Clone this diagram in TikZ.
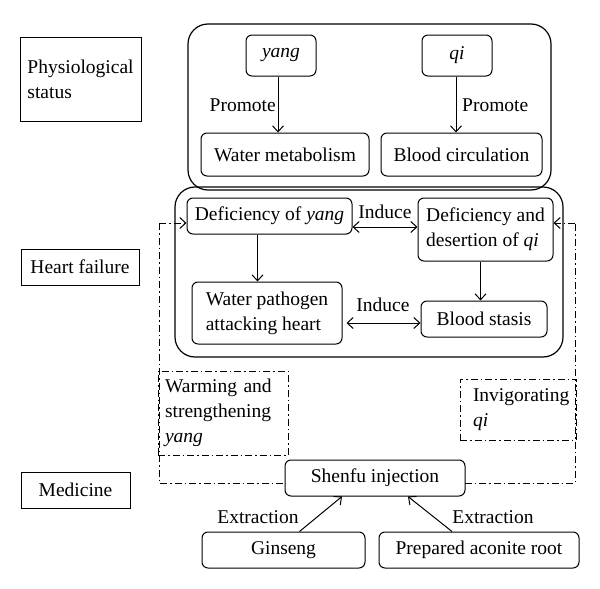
\documentclass[tikz,border=0pt]{standalone}
\usepackage{fontspec}
\setmainfont{Liberation Serif}
\usetikzlibrary{arrows.meta,calc}
\tikzset{
  txt/.style={font=\fontsize{19.5}{25}\selectfont},
  box/.style={draw, line width=1pt, inner sep=0pt, align=left, txt},
  rbox/.style={box, rounded corners=6pt},
  bigbox/.style={draw, line width=1.2pt, rounded corners=20pt, inner sep=0pt},
  dashdot/.style={line width=1pt, dash pattern=on 7pt off 3pt on 1.5pt off 3pt},
  dbox/.style={box, dashdot},
  lbl/.style={txt, inner sep=0pt},
  tip/.tip={Straight Barb[length=6pt,width=11pt]},
  arr/.style={-tip, line width=1pt},
  darr/.style={tip-tip, line width=1pt},
}
\begin{document}
\begin{tikzpicture}[x=1pt,y=-1pt]
\useasboundingbox (0,0) rectangle (600,589);
% left category boxes
\node[box, minimum width=121pt, minimum height=84pt] (phys) at (80.5,79) {Physiological\\status};
\node[box, minimum width=118pt, minimum height=36pt] (heart) at (80,267) {Heart failure};
\node[box, minimum width=109pt, minimum height=36pt] (med) at (75.5,490) {Medicine};
% top group
\node[bigbox, minimum width=363pt, minimum height=166pt] (topbig) at (369.5,107) {};
\node[rbox, minimum width=70pt, minimum height=41pt] (yang) at (281,55.5) {\textit{yang}};
\node[rbox, minimum width=70pt, minimum height=41pt] (qi) at (457,55.5) {\textit{qi}};
\node[rbox, minimum width=168pt, minimum height=43pt] (water) at (285,154.5) {Water metabolism};
\node[rbox, minimum width=161pt, minimum height=43pt] (bcirc) at (461.5,154.5) {Blood circulation};
\coordinate (a1) at ($(yang.south)+(-3,0)$);
\coordinate (a2) at ($(qi.south)+(-1,0)$);
\draw[arr] (a1) -- (a1 |- water.north);
\draw[arr] (a2) -- (a2 |- bcirc.north);
\node[lbl, anchor=east] (p1) at (276,105) {Promote};
\node[lbl, anchor=west] (p2) at (462,105) {Promote};
% middle group
\node[bigbox, minimum width=388pt, minimum height=170pt] (midbig) at (369,272) {};
\node[rbox, minimum width=165pt, minimum height=36pt] (defyang) at (269.5,216) {Deficiency of \textit{yang}};
\node[rbox, minimum width=135pt, minimum height=63pt] (defqi) at (485.5,229.5) {Deficiency and\\desertion of \textit{qi}};
\node[rbox, minimum width=150pt, minimum height=62pt] (wpath) at (267,313) {Water pathogen\\attacking heart};
\node[rbox, minimum width=126pt, minimum height=36pt] (stasis) at (484,319) {Blood stasis};
\coordinate (a3) at ($(defyang.south)+(-12,0)$);
\coordinate (a4) at ($(defqi.south)+(-5,0)$);
\draw[arr] (a3) -- (a3 |- wpath.north);
\draw[arr] (a4) -- (a4 |- stasis.north);
\coordinate (i1) at (defyang.east |- defqi.west);
\coordinate (i2) at ($(wpath.east |- stasis.west)+(4,4)$);
\draw[darr] ($(i1)+(0,-2.5)$) -- ($(defqi.west)+(0,-2.5)$);
\draw[darr] (i2) -- (i2 -| stasis.west);
\node[lbl] (ind1) at (385,212) {Induce};
\node[lbl] (ind2) at (383,305) {Induce};
% dash-dot loop
\coordinate (lt) at (159,223);
\coordinate (lb) at (159,483);
\coordinate (rb) at (575,483);
\coordinate (rt) at (575,223);
\draw[dashdot] (lt) -- (lb) -- (rb) -- (rt);
\draw[dashdot, -tip] (lt) -- (lt -| defyang.west);
\draw[dashdot, -tip] (rt) -- (rt -| defqi.east);
\node[dbox, minimum width=130pt, minimum height=84pt, text width=116pt] (warm) at (223,413) {Warming and\\strengthening\\\textit{yang}};
\node[dbox, minimum width=116pt, minimum height=61pt, text width=90pt] (invig) at (518,409.5) {Invigorating\\\textit{qi}};
% medicine
\node[rbox, fill=white, minimum width=180pt, minimum height=36pt] (shenfu) at (375,478) {Shenfu injection};
\node[rbox, minimum width=163pt, minimum height=36pt] (ginseng) at (283.5,550) {Ginseng};
\node[rbox, minimum width=200pt, minimum height=36pt] (aconite) at (479,550) {Prepared aconite root};
\draw[arr] ($(ginseng.north)+(16,0)$) -- ($(shenfu.south)+(-33,0)$);
\draw[arr] ($(aconite.north)+(-27,0)$) -- ($(shenfu.south)+(33,0)$);
\node[lbl] (ex1) at (258,517) {Extraction};
\node[lbl] (ex2) at (493,517) {Extraction};
\end{tikzpicture}
\end{document}
